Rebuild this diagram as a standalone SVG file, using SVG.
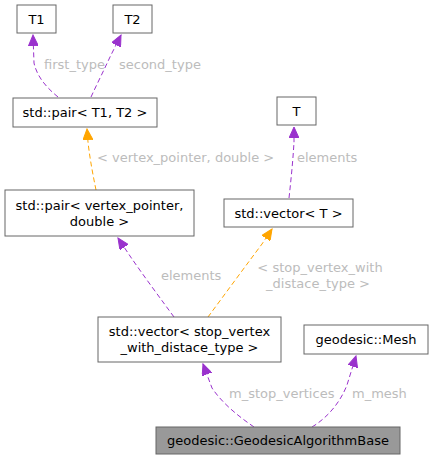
<svg xmlns="http://www.w3.org/2000/svg" width="433" height="460" viewBox="0 0 433 460">
<style>
  .node rect { fill: #ffffff; stroke: #666666; stroke-width: 1; }
  .node.hl rect { fill: #999999; }
  .node text { font-family: "DejaVu Sans", sans-serif; font-size: 13px; fill: #000000; text-anchor: middle; }
  .edge { fill: none; stroke-width: 1; stroke-dasharray: 5,3; }
  .p { stroke: #9a32cd; }
  .o { stroke: #ffa500; }
  .lbl { font-family: "DejaVu Sans", sans-serif; font-size: 13px; fill: #bcbcbc; }
</style>
<defs>
  <marker id="ap" markerUnits="userSpaceOnUse" markerWidth="12" markerHeight="10" refX="11" refY="5" orient="auto">
    <path d="M0,0 L11,5 L0,10 z" fill="#9a32cd" stroke="#9a32cd" stroke-width="1"/>
  </marker>
  <marker id="ao" markerUnits="userSpaceOnUse" markerWidth="12" markerHeight="10" refX="11" refY="5" orient="auto">
    <path d="M0,0 L11,5 L0,10 z" fill="#ffa500" stroke="#ffa500" stroke-width="1"/>
  </marker>
</defs>
<rect width="433" height="460" fill="#ffffff"/>

<g id="edges">
  <path class="edge p" d="M58,97 C47,88 37,77 34,63 L33,35" marker-end="url(#ap)"/>
  <text class="lbl" x="44" y="69">first_type</text>
  <path class="edge p" d="M91,97 C97,84 104,70 110,57 L121,35" marker-end="url(#ap)"/>
  <text class="lbl" x="119" y="69">second_type</text>
  <path class="edge o" d="M96,190 C93,175 90,160 88,142 L87,129" marker-end="url(#ao)"/>
  <text class="lbl" x="97" y="162">&lt; vertex_pointer, double &gt;</text>
  <path class="edge p" d="M289,198 C291,180 293,160 294,142 L294,127" marker-end="url(#ap)"/>
  <text class="lbl" x="297" y="162">elements</text>
  <path class="edge p" d="M174,317 C163,302 143,275 130,256 L118,238" marker-end="url(#ap)"/>
  <text class="lbl" x="161" y="280">elements</text>
  <path class="edge o" d="M208,317 C225,294 247,264 262,244 L272,229" marker-end="url(#ao)"/>
  <text class="lbl" x="320" y="272" text-anchor="middle">&lt; stop_vertex_with</text>
  <text class="lbl" x="318" y="288" text-anchor="middle">_distace_type &gt;</text>
  <path class="edge p" d="M254,427 C238,416 222,403 212,388 L203,364" marker-end="url(#ap)"/>
  <text class="lbl" x="229" y="398">m_stop_vertices</text>
  <path class="edge p" d="M312,427 C327,418 340,403 347,385 L356,356" marker-end="url(#ap)"/>
  <text class="lbl" x="352" y="398">m_mesh</text>
</g>

<g id="node_T1" class="node"><rect x="17" y="5" width="39" height="28"/><text x="36.5" y="23.5">T1</text></g>
<g id="node_T2" class="node"><rect x="113" y="5" width="39" height="28"/><text x="132.5" y="23.5">T2</text></g>
<g id="node_pairT1T2" class="node"><rect x="13" y="98" width="144" height="29"/><text x="85" y="117">std::pair&lt; T1, T2 &gt;</text></g>
<g id="node_T" class="node"><rect x="277" y="97" width="39" height="28"/><text x="296.5" y="115.5">T</text></g>
<g id="node_vectorT" class="node"><rect x="224" y="199" width="129" height="28"/><text x="288.5" y="217.5">std::vector&lt; T &gt;</text></g>
<g id="node_pairVP" class="node"><rect x="5" y="190" width="189" height="46"/><text x="99.5" y="209.5">std::pair&lt; vertex_pointer,</text><text x="99.5" y="225.5">double &gt;</text></g>
<g id="node_vectorSV" class="node"><rect x="98" y="317" width="183" height="45"/><text x="189.5" y="335.5">std::vector&lt; stop_vertex</text><text x="189.5" y="351.5">_with_distace_type &gt;</text></g>
<g id="node_Mesh" class="node"><rect x="304" y="325" width="124" height="29"/><text x="366" y="344">geodesic::Mesh</text></g>
<g id="node_GAB" class="node hl"><rect x="156" y="427" width="244" height="27"/><text x="278" y="445">geodesic::GeodesicAlgorithmBase</text></g>
</svg>
